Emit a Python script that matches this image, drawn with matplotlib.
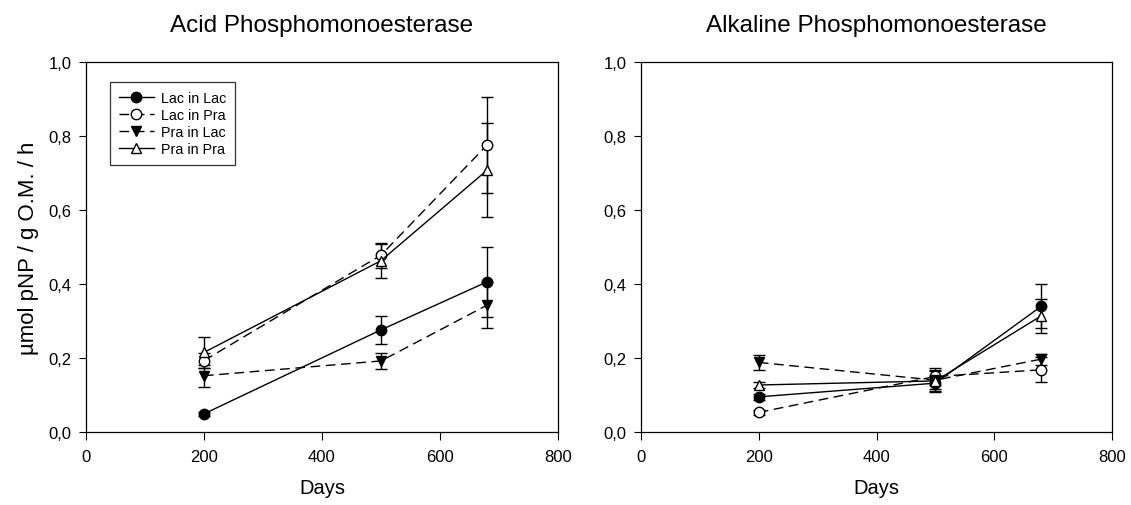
import matplotlib
matplotlib.use("Agg")
import matplotlib.pyplot as plt
from matplotlib.ticker import FuncFormatter

plt.rcParams['font.family'] = ['Liberation Sans', 'DejaVu Sans']

days = [200, 500, 680]
series = ['Lac in Lac', 'Lac in Pra', 'Pra in Lac', 'Pra in Pra']

# Acid phosphomonoesterase
acid_mean = {
    'Lac in Lac': [0.049, 0.276, 0.406],
    'Lac in Pra': [0.193, 0.478, 0.776],
    'Pra in Lac': [0.152, 0.192, 0.343],
    'Pra in Pra': [0.215, 0.463, 0.708],
}
acid_err = {
    'Lac in Lac': [0.006, 0.037, 0.094],
    'Lac in Pra': [0.020, 0.034, 0.129],
    'Pra in Lac': [0.030, 0.022, 0.062],
    'Pra in Pra': [0.043, 0.046, 0.128],
}

# Alkaline phosphomonoesterase
alk_mean = {
    'Lac in Lac': [0.095, 0.132, 0.340],
    'Lac in Pra': [0.053, 0.150, 0.168],
    'Pra in Lac': [0.188, 0.140, 0.197],
    'Pra in Pra': [0.127, 0.138, 0.314],
}
alk_err = {
    'Lac in Lac': [0.008, 0.020, 0.059],
    'Lac in Pra': [0.006, 0.022, 0.034],
    'Pra in Lac': [0.020, 0.025, 0.015],
    'Pra in Pra': [0.008, 0.030, 0.046],
}

styles = {
    'Lac in Lac': dict(marker='o', mfc='black', ls='-'),
    'Lac in Pra': dict(marker='o', mfc='white', ls=(0, (7, 4))),
    'Pra in Lac': dict(marker='v', mfc='black', ls=(0, (7, 4))),
    'Pra in Pra': dict(marker='^', mfc='white', ls='-'),
}

fig = plt.figure(figsize=(11.31, 5.06), dpi=100)
ax1 = fig.add_axes([0.076, 0.1443, 0.4174, 0.7312])
ax2 = fig.add_axes([0.5668, 0.1443, 0.4164, 0.7312])

comma = FuncFormatter(lambda v, p: f"{v:.1f}".replace('.', ','))

for ax, means, errs, title in [(ax1, acid_mean, acid_err, 'Acid Phosphomonoesterase'),
                               (ax2, alk_mean, alk_err, 'Alkaline Phosphomonoesterase')]:
    for s in series:
        st = styles[s]
        ax.errorbar(days, means[s], yerr=errs[s], color='black', lw=1,
                    ls=st['ls'], marker=st['marker'], mfc=st['mfc'], mec='black',
                    ms=7.5, capsize=4.5, elinewidth=1, capthick=1, label=s)
    ax.set_xlim(0, 800)
    ax.set_ylim(0, 1.0)
    ax.set_xticks([0, 200, 400, 600, 800])
    ax.set_yticks([0, 0.2, 0.4, 0.6, 0.8, 1.0])
    ax.yaxis.set_major_formatter(comma)
    ax.tick_params(direction='out', length=5.4, labelsize=12)
    ax.tick_params(axis='x', pad=7)
    ax.tick_params(axis='y', pad=5)
    ax.set_xlabel('Days', fontsize=14.5, labelpad=10)
    ax.set_title(title, fontsize=17.5, pad=22)
    for sp in ax.spines.values():
        sp.set_linewidth(0.9)

ax1.set_ylabel('µmol pNP / g O.M. / h', fontsize=16, labelpad=7)

handles, labels = ax1.get_legend_handles_labels()
handles = [h[0] for h in handles]
leg = ax1.legend(handles, labels, loc='upper left', bbox_to_anchor=(0.051, 0.946),
                 borderaxespad=0, fontsize=10.3, frameon=True, fancybox=False,
                 edgecolor='black', handlelength=2.4, handletextpad=0.5,
                 borderpad=0.65, labelspacing=0.2)
leg.get_frame().set_linewidth(0.9)

fig.savefig('out.png', dpi=100)
